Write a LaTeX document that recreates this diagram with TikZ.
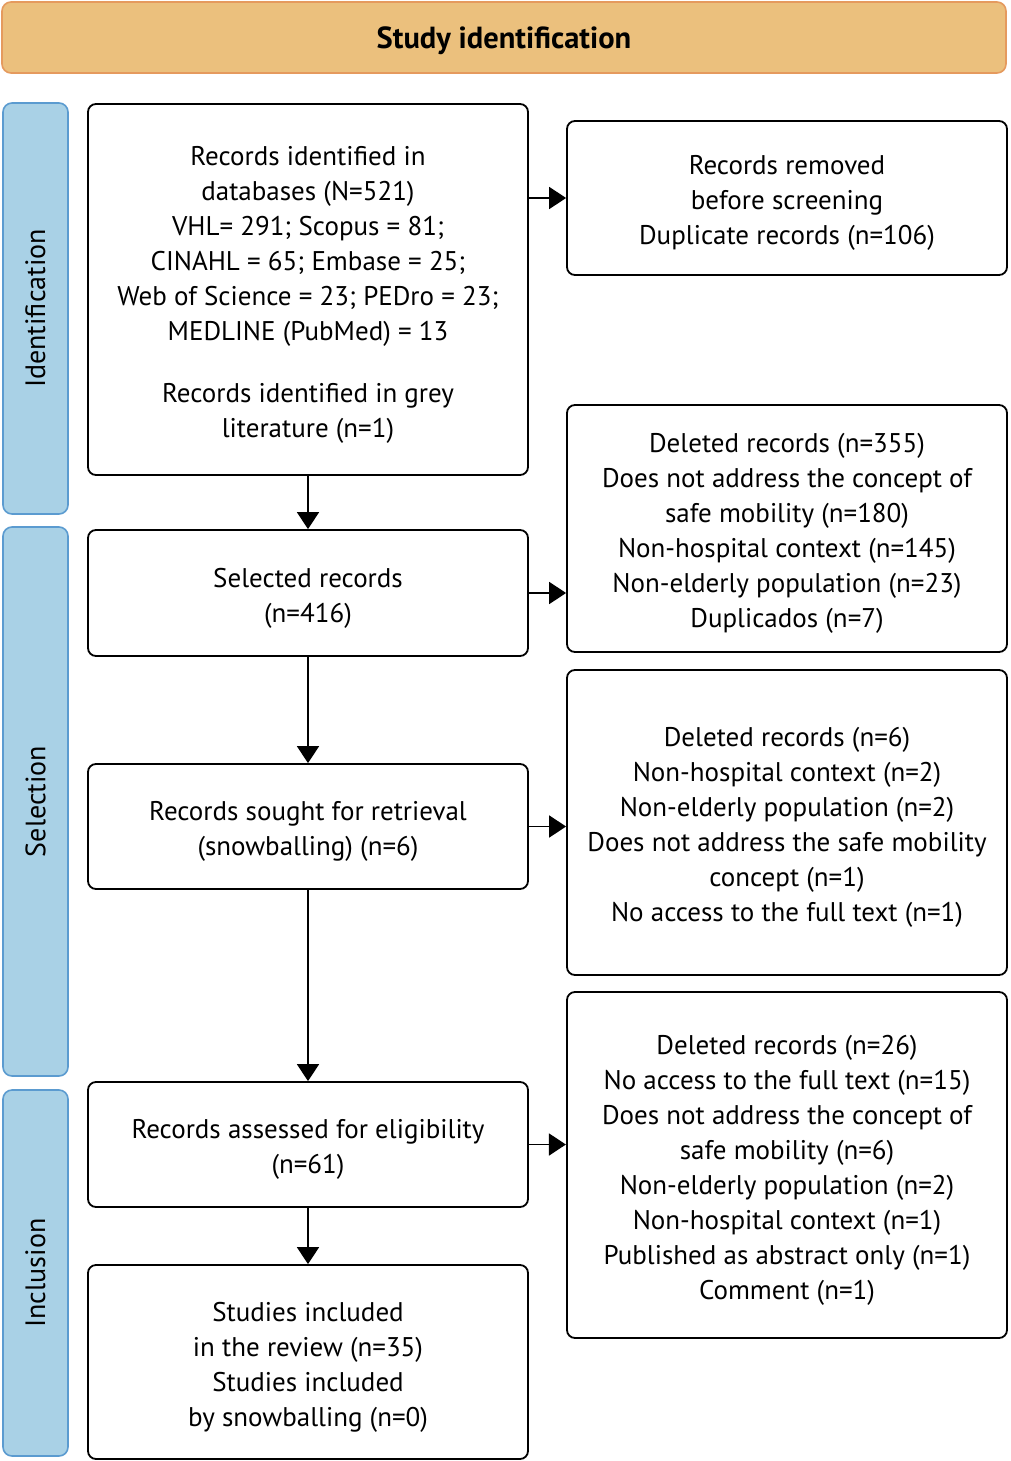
\documentclass[tikz,border=0pt]{standalone}
\usepackage{fontspec}
\setmainfont{PT Sans}
\usetikzlibrary{arrows.meta}
\definecolor{hdrfill}{HTML}{EBC07D}
\definecolor{hdrline}{HTML}{E59A5E}
\definecolor{sidefill}{HTML}{A9D1E6}
\definecolor{sideline}{HTML}{5B9BD0}
\newcommand\tp{\rule{0pt}{29pt}}
\tikzset{
  txt/.style={font=\fontsize{27}{35}\selectfont},
  box/.style={draw=black, line width=1.8pt, rounded corners=8pt, fill=white, align=center, txt, inner sep=0pt},
  side/.style={draw=sideline, line width=1.6pt, fill=sidefill, rounded corners=9pt},
  sidetxt/.style={rotate=90, font=\fontsize{28}{35}\selectfont},
  arr/.style={line width=1.8pt, -{Triangle[length=17pt,width=22pt]}},
}
\begin{document}
\begin{tikzpicture}[x=1pt,y=-1pt]
\useasboundingbox (0,0) rectangle (1010,1461);
% header
\node[draw=hdrline, line width=1.6pt, fill=hdrfill, rounded corners=9pt, minimum width=1004pt, minimum height=71pt, inner sep=0pt, text height=23pt, text depth=-1pt, font=\fontsize{30.5}{32}\selectfont\bfseries] (hdr) at (504,37.5) {Study identification};
% side bars
\draw[side] (3,103) rectangle (68,514);
\node[sidetxt] (sid) at (35.5,308.5) {Identification};
\draw[side] (3,527) rectangle (68,1076);
\node[sidetxt] (ssel) at (35.5,801.5) {Selection};
\draw[side] (3,1090) rectangle (68,1456);
\node[sidetxt] (sinc) at (35.5,1273) {Inclusion};
% left boxes
\node[box, minimum width=440pt, minimum height=371pt] (b1) at (308,289.5) {\tp Records identified in\\databases (N=521)\\VHL= 291; Scopus = 81;\\CINAHL = 65; Embase = 25;\\Web of Science = 23; PEDro = 23;\\MEDLINE (PubMed) = 13\\[27pt]Records identified in grey\\literature (n=1)};
\node[box, minimum width=440pt, minimum height=126pt] (b2) at (308,593) {\tp Selected records\\(n=416)};
\node[box, minimum width=440pt, minimum height=125pt] (b3) at (308,826.5) {\tp Records sought for retrieval\\(snowballing) (n=6)};
\node[box, minimum width=440pt, minimum height=125pt] (b4) at (308,1144.5) {\tp Records assessed for eligibility\\(n=61)};
\node[box, minimum width=440pt, minimum height=194pt] (b5) at (308,1362) {\tp Studies included\\in the review (n=35)\\Studies included\\by snowballing (n=0)};
% right boxes
\node[box, minimum width=440pt, minimum height=154pt] (r1) at (787,198) {\tp Records removed\\before screening\\Duplicate records (n=106)};
\node[box, minimum width=440pt, minimum height=247pt] (r2) at (787,528.5) {\tp Deleted records (n=355)\\Does not address the concept of\\safe mobility (n=180)\\Non-hospital context (n=145)\\Non-elderly population (n=23)\\Duplicados (n=7)};
\node[box, minimum width=440pt, minimum height=305pt] (r3) at (787,822.5) {\tp Deleted records (n=6)\\Non-hospital context (n=2)\\Non-elderly population (n=2)\\Does not address the safe mobility\\concept (n=1)\\No access to the full text (n=1)};
\node[box, minimum width=440pt, minimum height=346pt] (r4) at (787,1165) {\tp Deleted records (n=26)\\No access to the full text (n=15)\\Does not address the concept of\\safe mobility (n=6)\\Non-elderly population (n=2)\\Non-hospital context (n=1)\\Published as abstract only (n=1)\\Comment (n=1)};
% arrows right
\draw[arr] (b1.east |- r1.west) -- (r1.west);
\draw[arr] (b2.east) -- (b2.east -| r2.west);
\draw[arr] (b3.east) -- (b3.east -| r3.west);
\draw[arr] (b4.east) -- ++(37pt,0);
% arrows down
\draw[arr] (b1.south) -- (b2.north);
\draw[arr] (b2.south) -- (b3.north);
\draw[arr] (b3.south) -- (b4.north);
\draw[arr] (b4.south) -- (b5.north);
\end{tikzpicture}
\end{document}
